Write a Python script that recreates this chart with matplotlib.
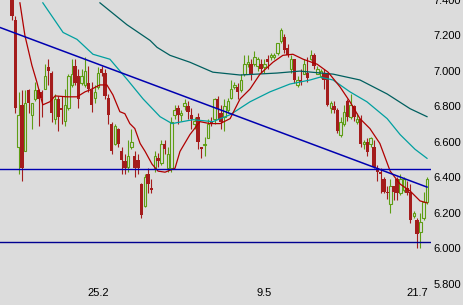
import matplotlib.pyplot as plt
from matplotlib.transforms import blended_transform_factory

# daily candles, oldest first
opens = [7.42, 7.29, 6.57, 6.81, 6.55, 6.89, 6.75, 6.84, 6.89, 6.88,
         6.90, 7.02, 6.99, 6.73, 6.84, 6.79, 6.72, 6.79, 6.92, 7.03,
         6.97, 6.93, 6.92, 6.93, 6.89, 6.85, 6.91, 7.01, 6.99, 6.85,
         6.70, 6.59, 6.67, 6.55, 6.49, 6.46, 6.57, 6.52, 6.50, 6.36,
         6.24, 6.42, 6.34, 6.45, 6.51, 6.48, 6.59, 6.45, 6.45, 6.75,
         6.79, 6.75, 6.80, 6.80, 6.75, 6.70, 6.74, 6.57, 6.58, 6.62,
         6.72, 6.73, 6.84, 6.76, 6.74, 6.78, 6.85, 6.91, 6.91, 6.89,
         6.98, 7.04, 7.04, 7.04, 7.03, 7.04, 7.02, 7.07, 7.08, 7.08,
         7.10, 7.17, 7.19, 7.13, 7.01, 7.07, 6.92, 6.95, 6.98, 6.99,
         7.07, 7.09, 6.98, 6.97, 6.99, 6.98, 6.79, 6.80, 6.78, 6.64,
         6.70, 6.83, 6.74, 6.80, 6.71, 6.73, 6.59, 6.60, 6.59, 6.57,
         6.45, 6.43, 6.39, 6.32, 6.25, 6.35, 6.39, 6.31, 6.33, 6.34,
         6.32, 6.18, 6.16, 6.09, 6.17, 6.26]
highs = [7.45, 7.31, 6.88, 6.89, 6.89, 6.90, 6.82, 6.94, 6.90, 6.89,
         7.04, 7.07, 7.00, 6.87, 6.86, 6.86, 6.90, 6.98, 7.07, 7.07,
         7.01, 7.01, 7.08, 7.03, 6.94, 6.92, 7.02, 7.03, 7.01, 6.87,
         6.71, 6.70, 6.68, 6.57, 6.53, 6.61, 6.67, 6.55, 6.53, 6.37,
         6.42, 6.45, 6.39, 6.55, 6.54, 6.61, 6.61, 6.57, 6.74, 6.81,
         6.81, 6.78, 6.84, 6.83, 6.79, 6.74, 6.76, 6.57, 6.63, 6.73,
         6.74, 6.85, 6.86, 6.81, 6.84, 6.85, 6.95, 6.94, 6.93, 6.98,
         7.09, 7.09, 7.07, 7.11, 7.08, 7.07, 7.07, 7.09, 7.10, 7.10,
         7.16, 7.24, 7.21, 7.15, 7.09, 7.07, 6.97, 7.01, 7.07, 7.08,
         7.12, 7.10, 7.03, 7.01, 7.01, 6.99, 6.83, 6.83, 6.79, 6.74,
         6.81, 6.84, 6.87, 6.81, 6.76, 6.75, 6.61, 6.62, 6.63, 6.61,
         6.47, 6.45, 6.40, 6.35, 6.39, 6.35, 6.40, 6.42, 6.40, 6.38,
         6.36, 6.21, 6.17, 6.20, 6.32, 6.40]
lows = [7.29, 6.76, 6.42, 6.38, 6.55, 6.76, 6.67, 6.83, 6.69, 6.74,
        6.90, 6.92, 6.71, 6.70, 6.66, 6.70, 6.69, 6.78, 6.91, 6.92,
        6.79, 6.92, 6.91, 6.88, 6.77, 6.82, 6.90, 6.97, 6.84, 6.70,
        6.53, 6.58, 6.57, 6.42, 6.42, 6.43, 6.56, 6.40, 6.42, 6.17,
        6.23, 6.31, 6.31, 6.43, 6.46, 6.47, 6.53, 6.43, 6.43, 6.73,
        6.70, 6.72, 6.78, 6.73, 6.67, 6.67, 6.56, 6.51, 6.52, 6.62,
        6.69, 6.70, 6.73, 6.67, 6.66, 6.76, 6.84, 6.90, 6.84, 6.88,
        6.97, 7.02, 6.95, 7.03, 7.00, 6.99, 6.99, 7.01, 7.06, 7.07,
        7.09, 7.16, 7.10, 7.08, 6.99, 6.93, 6.91, 6.92, 6.98, 6.94,
        7.06, 7.01, 6.98, 6.96, 6.90, 6.80, 6.76, 6.76, 6.65, 6.63,
        6.69, 6.72, 6.73, 6.72, 6.70, 6.57, 6.56, 6.52, 6.57, 6.45,
        6.38, 6.31, 6.31, 6.28, 6.20, 6.27, 6.27, 6.30, 6.32, 6.30,
        6.14, 6.17, 6.00, 6.00, 6.16, 6.25]
closes = [7.31, 6.79, 6.75, 6.45, 6.82, 6.82, 6.82, 6.89, 6.84, 6.85,
          6.97, 7.00, 6.76, 6.84, 6.74, 6.78, 6.81, 6.97, 6.98, 6.93,
          6.84, 6.97, 7.00, 6.90, 6.81, 6.88, 6.99, 6.99, 6.86, 6.75,
          6.55, 6.69, 6.59, 6.50, 6.45, 6.52, 6.60, 6.45, 6.45, 6.19,
          6.40, 6.36, 6.33, 6.52, 6.49, 6.59, 6.56, 6.53, 6.71, 6.78,
          6.75, 6.76, 6.82, 6.77, 6.73, 6.72, 6.60, 6.56, 6.59, 6.70,
          6.70, 6.84, 6.79, 6.71, 6.80, 6.83, 6.90, 6.92, 6.88, 6.95,
          7.04, 7.05, 6.98, 7.08, 7.07, 7.01, 7.04, 7.05, 7.09, 7.09,
          7.16, 7.23, 7.12, 7.09, 7.07, 6.95, 6.95, 6.94, 7.04, 6.96,
          7.09, 7.03, 7.01, 7.00, 6.95, 6.81, 6.82, 6.78, 6.66, 6.71,
          6.77, 6.74, 6.81, 6.74, 6.73, 6.59, 6.60, 6.54, 6.62, 6.46,
          6.43, 6.42, 6.32, 6.31, 6.35, 6.32, 6.31, 6.39, 6.39, 6.31,
          6.16, 6.20, 6.08, 6.15, 6.26, 6.39]

# moving averages (candle index, price)
ma_fast_x = [2.4, 3.9, 6.0, 7.5, 9.3, 11.4, 13.0, 16.6, 19.6, 22.0, 23.5, 26.5,
             28.6, 30.4, 32.5, 34.0, 35.5, 37.0, 38.6, 40.1, 42.2, 44.0, 46.1,
             47.6, 49.1, 50.6, 53.6, 56.6, 59.6, 62.7, 65.7, 68.7, 71.7, 74.7,
             78.6, 81.6, 84.6, 87.7, 91.9, 95.2, 98.8, 101.8, 104.8, 107.8,
             110.8, 113.9, 116.9, 119.9, 122.9, 125.0]
ma_fast_y = [7.384, 7.200, 7.032, 6.937, 6.809, 6.826, 6.859, 6.854, 6.854,
             6.882, 6.893, 6.921, 6.921, 6.865, 6.770, 6.759, 6.703, 6.675,
             6.591, 6.546, 6.474, 6.435, 6.429, 6.440, 6.451, 6.546, 6.641,
             6.714, 6.703, 6.703, 6.731, 6.842, 6.898, 6.982, 7.049, 7.088,
             7.094, 7.066, 7.038, 6.993, 6.910, 6.826, 6.731, 6.675, 6.591,
             6.435, 6.362, 6.323, 6.267, 6.256]
ma_mid_x = [9.3, 15.4, 19.6, 24.4, 29.5, 34.6, 39.5, 44.6, 48.2, 54.5, 60.5,
            65.7, 71.7, 77.7, 83.7, 89.8, 92.8, 96.7, 101.8, 106.9, 113.0,
            116.9, 121.4, 125.0]
ma_mid_y = [7.384, 7.217, 7.178, 7.094, 7.066, 6.954, 6.842, 6.742, 6.703,
            6.725, 6.714, 6.753, 6.826, 6.882, 6.926, 6.949, 6.965, 6.949,
            6.882, 6.826, 6.731, 6.641, 6.558, 6.507]
ma_slow_x = [26.5, 34.6, 41.6, 43.7, 47.6, 53.6, 60.5, 68.7, 79.8, 86.7,
             96.7, 104.8, 113.0, 119.9, 125.0]
ma_slow_y = [7.384, 7.261, 7.172, 7.133, 7.088, 7.049, 6.993, 6.977, 6.988,
             6.999, 6.982, 6.949, 6.870, 6.787, 6.742]

trend_x = [-3.6, 125.0]
trend_y = [7.245, 6.345]
resistance = 6.446
support = 6.038

date_pos = [26, 76, 122]
date_labels = ["25.2", "9.5", "21.7"]
price_ticks = [5.8, 6.0, 6.2, 6.4, 6.6, 6.8, 7.0, 7.2, 7.4]

bg = "#dcdcdc"
up_col = "#5e9e14"
down_col = "#a41c1c"

fig = plt.figure(figsize=(4.63, 3.05), dpi=100, facecolor=bg)
ax = fig.add_axes([0, 0, 431 / 463, 1], facecolor=bg)

x = list(range(len(closes)))
for i in x:
    o, h, l, c = opens[i], highs[i], lows[i], closes[i]
    if c >= o:
        ax.vlines(i, l, h, color=up_col, lw=0.8, zorder=3)
        ax.bar(i, c - o, bottom=o, width=0.72, facecolor=bg,
               edgecolor=up_col, linewidth=0.8, zorder=4)
    else:
        ax.vlines(i, l, h, color=down_col, lw=0.8, zorder=3)
        ax.bar(i, o - c, bottom=c, width=1.0, color=down_col,
               linewidth=0, zorder=4)

ax.plot(ma_slow_x, ma_slow_y, color="#005f5f", lw=0.9, zorder=5)
ax.plot(ma_mid_x, ma_mid_y, color="#00a0a0", lw=0.9, zorder=5)
ax.plot(ma_fast_x, ma_fast_y, color="#b00000", lw=0.9, zorder=6)
ax.plot(trend_x, trend_y, color="#0000b0", lw=1.1, zorder=6)
ax.axhline(resistance, color="#0000b0", lw=1.0, zorder=6)
ax.axhline(support, color="#000090", lw=1.0, zorder=6)

ax.set_xlim(-3.6, 126.2)
ax.set_ylim(5.68, 7.384)

ax.yaxis.tick_right()
ax.set_yticks(price_ticks)
ax.set_yticklabels([f"{p:.3f}" for p in price_ticks], fontsize=8,
                   family="Liberation Sans")
ax.tick_params(axis="y", length=0, pad=2)
ax.set_xticks([])
for s in ax.spines.values():
    s.set_visible(False)

trans = blended_transform_factory(ax.transData, ax.transAxes)
for p, lab in zip(date_pos, date_labels):
    ax.text(p, 0.038, lab, transform=trans, ha="center", va="center",
            fontsize=8, family="Liberation Sans")

fig.savefig("out.png", dpi=100, facecolor=bg)
